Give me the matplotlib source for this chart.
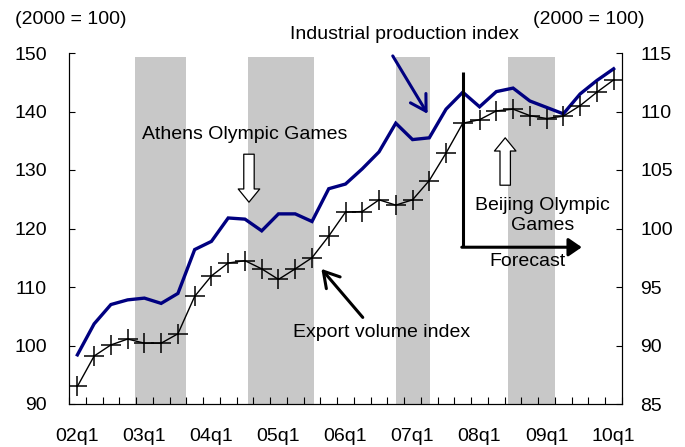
import numpy as np
import matplotlib
matplotlib.use("Agg")
import matplotlib.pyplot as plt

plt.rcParams["font.family"] = ["Liberation Sans", "DejaVu Sans"]

# quarterly data, 2002q1 .. 2010q1
quarters = ["%02dq%d" % (y, q) for y in range(2, 11) for q in range(1, 5)][:33]
export_volume = [93.0, 98.2, 100.1, 101.1, 100.4, 100.4, 102.0, 108.4,
                 111.9, 114.1, 114.5, 113.1, 111.3, 113.1, 115.0, 118.7,
                 122.8, 122.9, 124.9, 124.0, 124.9, 128.2, 132.9, 138.0,
                 138.6, 140.1, 140.4, 139.3, 138.8, 139.2, 141.0, 143.3, 145.4]
industrial_prod = [89.2, 91.85, 93.5, 93.9, 94.05, 93.6, 94.45, 98.2,
                   98.9, 100.9, 100.8, 99.8, 101.25, 101.25, 100.6, 103.4,
                   103.8, 105.1, 106.55, 109.0, 107.6, 107.75, 110.2, 111.65,
                   110.4, 111.7, 112.0, 110.9, 110.35, 109.8, 111.5, 112.65, 113.65]
tick_labels = ["02q1", "03q1", "04q1", "05q1", "06q1", "07q1", "08q1", "09q1", "10q1"]
# shaded periods (in quarter index units)
shade_start = [3.45, 10.2, 19.0, 25.7]
shade_end = [6.5, 14.15, 21.05, 28.5]
forecast_start = 23

x = np.arange(len(quarters))
navy = "#000080"

fig = plt.figure(figsize=(6.85, 4.47), dpi=100)
ax2 = fig.add_axes([69 / 685, 43 / 447, 553 / 685, 351 / 447])
ax = ax2.twinx()
ax.set_zorder(ax2.get_zorder() + 1)
ax.patch.set_visible(False)
ax.xaxis.set_visible(True)
ax.yaxis.tick_left()
ax2.yaxis.tick_right()

# right axis: shading + industrial production
for s, e in zip(shade_start, shade_end):
    ax2.axvspan(s, e, ymin=0, ymax=0.988, color="#c8c8c8", lw=0, zorder=0)
ax2.plot(x, industrial_prod, color=navy, lw=2.4, solid_joinstyle="miter", zorder=2)
ax2.set_ylim(85, 115)
ax2.set_yticks(np.arange(85, 116, 5))

# left axis: export volume
ax.plot(x, export_volume, color="black", lw=1.0, marker="+", ms=14, mew=1.1, zorder=3)
ax.set_ylim(90, 150)
ax.set_yticks(np.arange(90, 151, 10))
ax.set_xlim(-0.5, 32.5)

ax.set_xticks(np.arange(0, 33, 4))
ax.set_xticklabels(tick_labels)
ax.set_xticks(np.arange(-0.5, 33, 1), minor=True)
ax2.tick_params(axis="x", which="both", length=0, labelbottom=False)
ax.tick_params(axis="x", which="major", length=0, labelsize=14, pad=17)
ax.tick_params(axis="x", which="minor", direction="in", length=5, width=0.8,
               bottom=True)
ax.tick_params(axis="y", direction="in", length=4, width=0.8, labelsize=14, pad=16,
               left=True, right=False, labelleft=True, labelright=False)
ax2.tick_params(axis="y", direction="in", length=4, width=0.8, labelsize=14, pad=13,
                left=False, right=True, labelleft=False, labelright=True)

for a in (ax, ax2):
    a.spines["top"].set_visible(False)
    for sp in ("left", "right", "bottom"):
        a.spines[sp].set_linewidth(0.8)

# annotations
fig.text(71 / 685, 1 - 20 / 447, "(2000 = 100)", ha="center", va="center", fontsize=14)
fig.text(589 / 685, 1 - 20 / 447, "(2000 = 100)", ha="center", va="center", fontsize=14)

ax.text(19.5, 153.2, "Industrial production index", ha="center", va="center",
        fontsize=14, clip_on=False)
ax.annotate("", xy=(20.9, 139.6), xytext=(18.82, 149.5),
            arrowprops=dict(arrowstyle="->,head_length=1.1,head_width=0.65",
                            color=navy, lw=2.2, mutation_scale=10,
                            shrinkA=0, shrinkB=0))

ax.text(10.0, 136.0, "Athens Olympic Games", ha="center", va="center", fontsize=14)
ax.annotate("", xy=(10.24, 124.5), xytext=(10.24, 132.7),
            arrowprops=dict(arrowstyle="simple,head_length=0.95,head_width=1.55,tail_width=0.75",
                            fc="white", ec="black", lw=0.9, mutation_scale=10,
                            shrinkA=0, shrinkB=0))

ax.text(18.15, 102.3, "Export volume index", ha="center", va="center", fontsize=14)
ax.annotate("", xy=(14.56, 113.1), xytext=(17.03, 104.8),
            arrowprops=dict(arrowstyle="->,head_length=1.1,head_width=0.65",
                            color="black", lw=2.2, mutation_scale=10,
                            shrinkA=0, shrinkB=0))

ax.text(27.74, 122.2, "Beijing Olympic\nGames", ha="center", va="center",
        fontsize=14, linespacing=1.2)
ax.annotate("", xy=(25.53, 135.5), xytext=(25.53, 127.4),
            arrowprops=dict(arrowstyle="simple,head_length=0.95,head_width=1.55,tail_width=0.75",
                            fc="white", ec="black", lw=0.9, mutation_scale=10,
                            shrinkA=0, shrinkB=0))

# forecast marker
ax.plot([forecast_start, forecast_start], [146.7, 116.8], color="black", lw=2.2,
        solid_capstyle="butt", zorder=4)
ax.annotate("", xy=(30.1, 116.8), xytext=(forecast_start - 0.06, 116.8),
            arrowprops=dict(arrowstyle="-|>,head_length=0.8,head_width=0.55",
                            color="black", lw=2.2, mutation_scale=10,
                            shrinkA=0, shrinkB=0))
ax.text(26.84, 114.4, "Forecast", ha="center", va="center", fontsize=14)

fig.savefig("out.png", dpi=100)
